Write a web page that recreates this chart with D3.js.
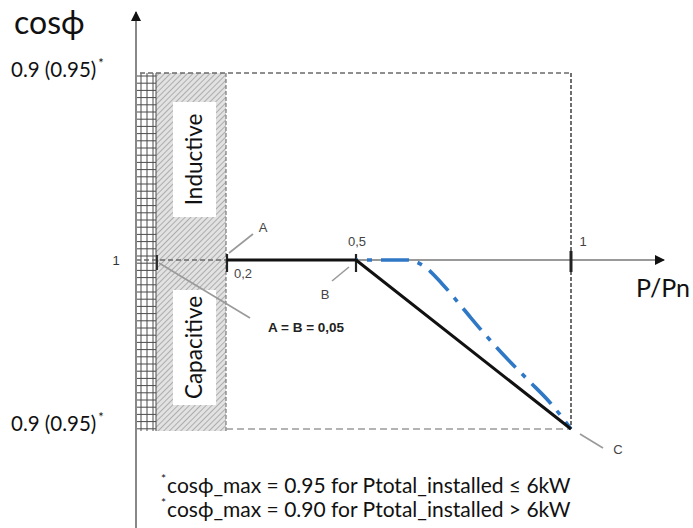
<!DOCTYPE html>
<html>
<head>
<meta charset="utf-8">
<script src="https://cdn.jsdelivr.net/npm/d3@7"></script>
<style>
  html, body { margin: 0; padding: 0; background: #fff; }
  svg { display: block; }
</style>
</head>
<body>
<svg id="chart" width="693" height="528"></svg>
<script>
// P/Pn tick positions and their labels
const xTickValues = [0.2, 0.5, 1];
const xTickLabels = ["0,2", "0,5", "1"];

// cos phi limit labels (upper = inductive, lower = capacitive)
const cosLimitLabels = ["0.9 (0.95)", "0.9 (0.95)"];

// Standard characteristic (black): P/Pn vs cos phi (capacitive side)
const stdP   = [0.2, 0.5, 1.0];
const stdCos = [1.0, 1.0, 0.9];

// Alternative characteristic (blue, dash-dot)
const altP   = [0.5, 0.62, 0.66, 0.70, 0.75, 0.80, 0.85, 0.90, 0.95, 1.0];
const altCos = [1.0, 1.0, 0.996, 0.986, 0.971, 0.956, 0.942, 0.929, 0.916, 0.90];

// Footnote lines
const footnotes = [
  "cosϕ_max = 0.95 for Ptotal_installed ≤ 6kW",
  "cosϕ_max = 0.90 for Ptotal_installed > 6kW"
];

const svg = d3.select("#chart");

// Scales
const x = d3.scaleLinear().domain([0, 1]).range([141, 571]);
const yCap = d3.scaleLinear().domain([0.9, 1]).range([429, 260]);  // capacitive half
const yInd = d3.scaleLinear().domain([0.9, 1]).range([73, 260]);   // inductive half

const axisY = yCap(1);
const yTop = yInd(0.9);
const yBot = yCap(0.9);
const xAxisPos = 136;

const defs = svg.append("defs");
// diagonal hatch for the dead band
const hatch = defs.append("pattern")
  .attr("id", "hatch").attr("patternUnits", "userSpaceOnUse")
  .attr("width", 4).attr("height", 4)
  .attr("patternTransform", "rotate(45)");
hatch.append("rect").attr("width", 4).attr("height", 4).attr("fill", "#e2e2e2");
hatch.append("line").attr("x1", 0).attr("y1", 0).attr("x2", 0).attr("y2", 4)
  .attr("stroke", "#979797").attr("stroke-width", 1.4);

// arrow marker
defs.append("marker").attr("id", "arrow")
  .attr("viewBox", "0 0 10 10").attr("refX", 9).attr("refY", 5)
  .attr("markerWidth", 10).attr("markerHeight", 10).attr("markerUnits", "userSpaceOnUse")
  .attr("orient", "auto")
  .append("path").attr("d", "M0,0 L10,5 L0,10 Z").attr("fill", "#111");

// --- Dead band: grid strip + hatched strip ---
const gridL = 136, gridR = 156;
const hatchR = x(0.2) - 1;
svg.append("rect")
  .attr("x", gridR).attr("y", yTop).attr("width", hatchR - gridR).attr("height", yBot - yTop + 2)
  .attr("fill", "url(#hatch)");

const gridG = svg.append("g").attr("stroke", "#4a4a4a").attr("stroke-width", 1);
[141, 147, 153, gridR].forEach(gx => {
  gridG.append("line").attr("x1", gx).attr("x2", gx).attr("y1", yTop).attr("y2", yBot + 2);
});
for (let gy = yTop + 3; gy <= yBot + 2; gy += 7.2) {
  gridG.append("line").attr("x1", gridL).attr("x2", gridR).attr("y1", gy).attr("y2", gy);
}

// white label boxes with rotated text
const boxes = [
  { text: "Inductive", y0: 102, y1: 217 },
  { text: "Capacitive", y0: 290, y1: 405 }
];
boxes.forEach(b => {
  svg.append("rect").attr("x", 173).attr("y", b.y0).attr("width", 43).attr("height", b.y1 - b.y0)
    .attr("fill", "#fff");
  const cx = 194.5, cy = (b.y0 + b.y1) / 2;
  svg.append("text")
    .attr("transform", `translate(${cx + 7},${cy}) rotate(-90)`)
    .attr("text-anchor", "middle")
    .attr("font-family", "Lato, 'Open Sans', sans-serif")
    .attr("font-size", 22.5).attr("fill", "#111")
    .text(b.text);
});

// right border of dead band
svg.append("line").attr("x1", hatchR).attr("x2", hatchR).attr("y1", yTop).attr("y2", yBot + 2)
  .attr("stroke", "#7a7a7a").attr("stroke-width", 1.2).attr("stroke-dasharray", "4 2");

// --- Limit frame (dashed) ---
svg.append("line").attr("x1", 140).attr("x2", x(1)).attr("y1", yTop).attr("y2", yTop)
  .attr("stroke", "#6a6a6a").attr("stroke-width", 1.5).attr("stroke-dasharray", "5 3");
svg.append("line").attr("x1", x(1)).attr("x2", x(1)).attr("y1", yTop).attr("y2", yBot)
  .attr("stroke", "#4a4a4a").attr("stroke-width", 1.6).attr("stroke-dasharray", "4 2");
svg.append("line").attr("x1", hatchR).attr("x2", x(1)).attr("y1", yBot).attr("y2", yBot)
  .attr("stroke", "#9a9a9a").attr("stroke-width", 1.3).attr("stroke-dasharray", "7 4");

// --- Axes ---
// horizontal axis: dashed inside dead band, solid beyond
svg.append("line").attr("x1", gridL).attr("x2", x(0.2)).attr("y1", axisY).attr("y2", axisY)
  .attr("stroke", "#6a6a6a").attr("stroke-width", 1.3).attr("stroke-dasharray", "5 3");
svg.append("line").attr("x1", x(0.2)).attr("x2", 664).attr("y1", axisY).attr("y2", axisY)
  .attr("stroke", "#777").attr("stroke-width", 1.6).attr("marker-end", "url(#arrow)");
// vertical axis
svg.append("line").attr("x1", xAxisPos).attr("x2", xAxisPos).attr("y1", 528).attr("y2", 12)
  .attr("stroke", "#888").attr("stroke-width", 2).attr("marker-end", "url(#arrow)");

// tick marks on P/Pn axis
const tickG = svg.append("g").attr("stroke", "#222");
xTickValues.forEach(v => {
  tickG.append("line").attr("x1", x(v)).attr("x2", x(v))
    .attr("y1", axisY - (v === 1 ? 9 : 6)).attr("y2", axisY + 12)
    .attr("stroke-width", v === 1 ? 3 : 2.2);
});
// tick at the dead-band edge
tickG.append("line").attr("x1", gridR + 1).attr("x2", gridR + 1).attr("y1", axisY - 5).attr("y2", axisY + 10)
  .attr("stroke-width", 1.8);

// tick labels
const lblFont = "Arial, 'Liberation Sans', sans-serif";
xTickValues.forEach((v, i) => {
  const below = v === 0.2;
  svg.append("text")
    .attr("x", x(v) + (v === 0.5 ? 1 : (below ? 16 : 12))).attr("y", below ? axisY + 18 : axisY - 14)
    .attr("text-anchor", "middle")
    .attr("font-family", lblFont).attr("font-size", 13).attr("fill", "#444")
    .text(xTickLabels[i]);
});

// --- Characteristic curves ---
const altData = altP.map((p, i) => [p, altCos[i]]);
svg.append("path")
  .attr("d", d3.line().x(d => x(d[0])).y(d => yCap(d[1])).curve(d3.curveMonotoneX)(altData))
  .attr("fill", "none").attr("stroke", "#2f78c6").attr("stroke-width", 3.6)
  .attr("stroke-dasharray", "28 9 5 9").attr("stroke-dashoffset", 26);

const stdData = stdP.map((p, i) => [p, stdCos[i]]);
svg.append("path")
  .attr("d", d3.line().x(d => x(d[0])).y(d => yCap(d[1]))(stdData))
  .attr("fill", "none").attr("stroke", "#111").attr("stroke-width", 3)
  .attr("stroke-linejoin", "round");

// --- Leader lines and point labels ---
const leadG = svg.append("g").attr("stroke", "#9a9a9a").attr("stroke-width", 1.6);
const leaders = [
  [x(0.2) + 2, axisY - 7, x(0.2) + 26, axisY - 26],   // A
  [x(0.5) - 7, axisY + 7, x(0.5) - 24, axisY + 21],   // B
  [gridR + 3, axisY + 3, 250, 318],                   // A = B note
  [x(1) + 9, yBot + 5, x(1) + 32, yBot + 19]          // C
];
leaders.forEach(l => leadG.append("line")
  .attr("x1", l[0]).attr("y1", l[1]).attr("x2", l[2]).attr("y2", l[3]));

const pointLabels = [
  { t: "A", px: x(0.2) + 36, py: axisY - 28 },
  { t: "B", px: x(0.5) - 31, py: axisY + 39 },
  { t: "C", px: x(1) + 47, py: yBot + 25 }
];
pointLabels.forEach(p => svg.append("text")
  .attr("x", p.px).attr("y", p.py).attr("text-anchor", "middle")
  .attr("font-family", lblFont).attr("font-size", 13).attr("fill", "#444").text(p.t));

svg.append("text").attr("x", 268).attr("y", 332)
  .attr("font-family", lblFont).attr("font-size", 13.5).attr("font-weight", "bold").attr("fill", "#222")
  .text("A = B = 0,05");

// --- Axis titles and limit labels ---
const calFont = "Lato, 'Open Sans', sans-serif";
svg.append("text").attr("x", 14).attr("y", 34)
  .attr("font-family", calFont).attr("font-size", 32).attr("fill", "#111").text("cosϕ");

svg.append("text").attr("x", 636).attr("y", 297)
  .attr("font-family", calFont).attr("font-size", 25).attr("fill", "#111").text("P/Pn");

[yTop, yBot].forEach((yy, i) => {
  const t = svg.append("text").attr("x", 11).attr("y", yy + (i === 0 ? 4 : 2))
    .attr("font-family", calFont).attr("font-size", 20.5).attr("fill", "#111");
  t.append("tspan").text(cosLimitLabels[i]);
  t.append("tspan").attr("font-size", 13).attr("dy", -9).attr("dx", 2).text("*");
});

svg.append("text").attr("x", 116).attr("y", axisY + 5).attr("text-anchor", "middle")
  .attr("font-family", lblFont).attr("font-size", 13).attr("fill", "#333").text("1");

// --- Footnotes ---
footnotes.forEach((f, i) => {
  const t = svg.append("text").attr("x", 161).attr("y", 493 + i * 24)
    .attr("font-family", calFont).attr("font-size", 21).attr("fill", "#111");
  t.append("tspan").attr("font-size", 12).attr("dy", -10).text("*");
  t.append("tspan").attr("dy", 10).attr("dx", 1).text(f);
});
</script>
</body>
</html>
